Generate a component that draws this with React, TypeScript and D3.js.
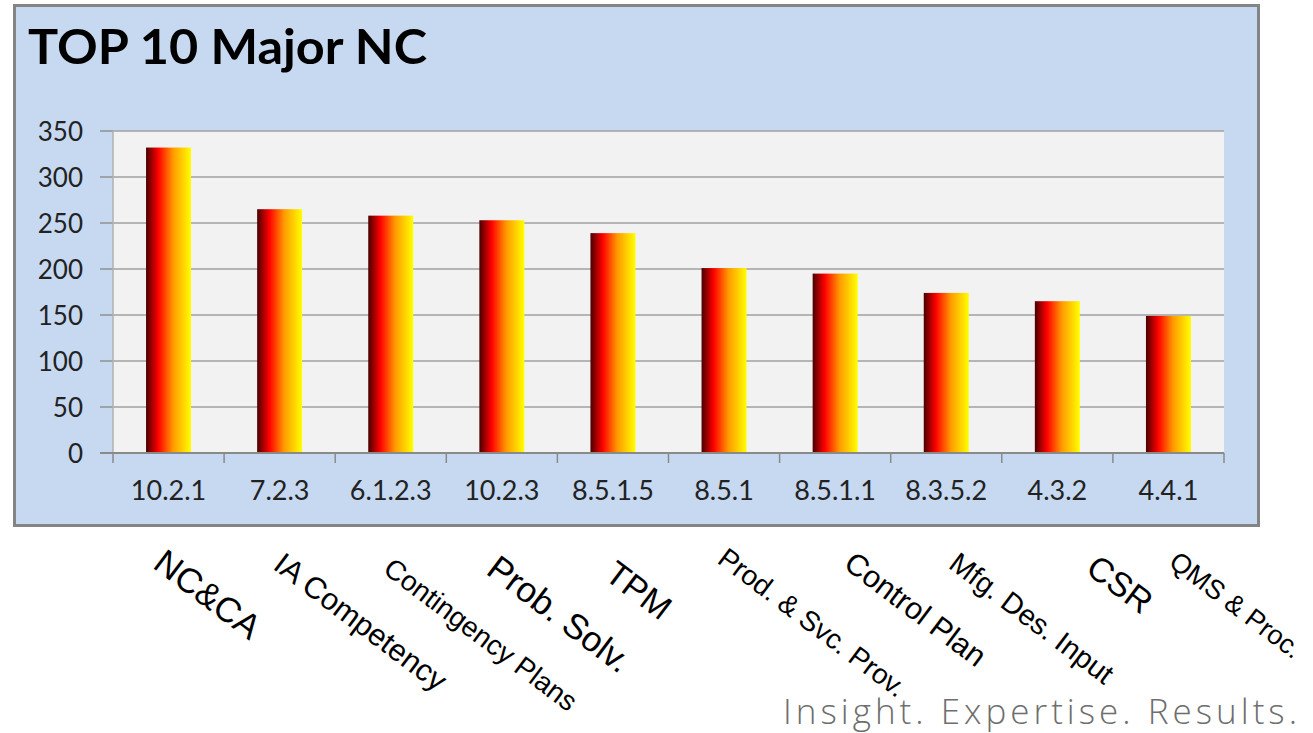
import React from "react";
import * as d3 from "d3";

const codes = ["10.2.1", "7.2.3", "6.1.2.3", "10.2.3", "8.5.1.5", "8.5.1", "8.5.1.1", "8.3.5.2", "4.3.2", "4.4.1"];
const values = [332, 265, 258, 253, 239, 201, 195, 174, 165, 149];
const names = ["NC&CA", "IA Competency", "Contingency Plans", "Prob. Solv.", "TPM", "Prod. & Svc. Prov.", "Control Plan", "Mfg. Des. Input", "CSR", "QMS & Proc."];
const yTicks = [0, 50, 100, 150, 200, 250, 300, 350];
const title = "TOP 10 Major NC";
const tagline = "Insight. Expertise. Results.";

// label styling (font size, offset of baseline start from category centre)
const nameSize = [35, 30.5, 28, 35, 34, 28, 30.5, 29, 34, 27];
const nameDx = [-17, -8, -9, -17, -10, -8, 7, 1, 27, -1];
const nameY = [567, 568, 572, 573, 578, 562, 567, 567, 572, 565];

const W = 1313;
const H = 733;
const plotL = 113;
const plotR = 1224;
const plotT = 131;
const plotB = 453;

export default function App() {
  const x = d3.scaleBand<string>().domain(codes).range([plotL, plotR]).paddingInner(0.595).paddingOuter(0.2975);
  const y = d3.scaleLinear().domain([0, 350]).range([plotB, plotT]);
  const step = x.step();
  const tickXs = d3.range(codes.length + 1).map((i) => plotL + i * step);
  const sans = "Lato, 'Open Sans', sans-serif";
  const arial = "'Liberation Sans', Arial, sans-serif";
  return (
    <svg width={W} height={H} style={{ position: "absolute", left: 0, top: 0, background: "#fff" }}>
      <defs>
        <linearGradient id="barGrad" x1="0" y1="0" x2="1" y2="0">
          <stop offset="0" stopColor="#4a0000" />
          <stop offset="0.27" stopColor="#ff0000" />
          <stop offset="0.6" stopColor="#ff9a00" />
          <stop offset="1" stopColor="#ffff00" />
        </linearGradient>
      </defs>
      <rect x={14.5} y={5.5} width={1244} height={520} fill="#c6d9f1" stroke="#848484" strokeWidth={3} />
      <text x={28} y={64} fontFamily={sans} fontWeight={700} fontSize={47} fill="#000" textLength={399} lengthAdjust="spacingAndGlyphs">{title}</text>
      <rect x={plotL} y={plotT} width={plotR - plotL} height={plotB - plotT} fill="#f2f2f2" />
      {yTicks.map((t) => (
        <g key={t}>
          {t > 0 && <line x1={plotL} x2={plotR} y1={y(t)} y2={y(t)} stroke="#a0a0a0" strokeWidth={1.6} />}
          <line x1={100} x2={plotL} y1={y(t)} y2={y(t)} stroke="#909090" strokeWidth={1.5} />
          <text x={83} y={y(t) + 10} textAnchor="end" fontFamily={sans} fontSize={26} fill="#222">{t}</text>
        </g>
      ))}
      <line x1={plotL} x2={plotL} y1={plotT} y2={plotB} stroke="#b0b0b0" strokeWidth={1.5} />
      {codes.map((c, i) => (
        <rect key={c} x={x(c)} y={y(values[i])} width={x.bandwidth()} height={plotB - y(values[i])} fill="url(#barGrad)" />
      ))}
      <line x1={plotL - 13} x2={plotR} y1={plotB} y2={plotB} stroke="#8a8a8a" strokeWidth={2} />
      {tickXs.map((tx, i) => (
        <line key={i} x1={tx} x2={tx} y1={plotB} y2={plotB + 10} stroke="#8a8a8a" strokeWidth={1.5} />
      ))}
      {codes.map((c) => (
        <text key={c} x={(x(c) as number) + x.bandwidth() / 2} y={500} textAnchor="middle" fontFamily={sans} fontSize={27} fill="#222">{c}</text>
      ))}
      {names.map((n, i) => {
        const cx = (x(codes[i]) as number) + x.bandwidth() / 2 + nameDx[i];
        const cy = nameY[i];
        return (
          <text key={n} x={cx} y={cy} transform={`rotate(37 ${cx} ${cy})`} fontFamily={arial} fontSize={nameSize[i]} fill="#000">{n}</text>
        );
      })}
      <text x={783} y={724} fontFamily="'Open Sans', 'Liberation Sans', sans-serif" fontWeight={300} fontSize={35} fill="#6e6e6e" textLength={514} lengthAdjust="spacing">{tagline}</text>
    </svg>
  );
}
